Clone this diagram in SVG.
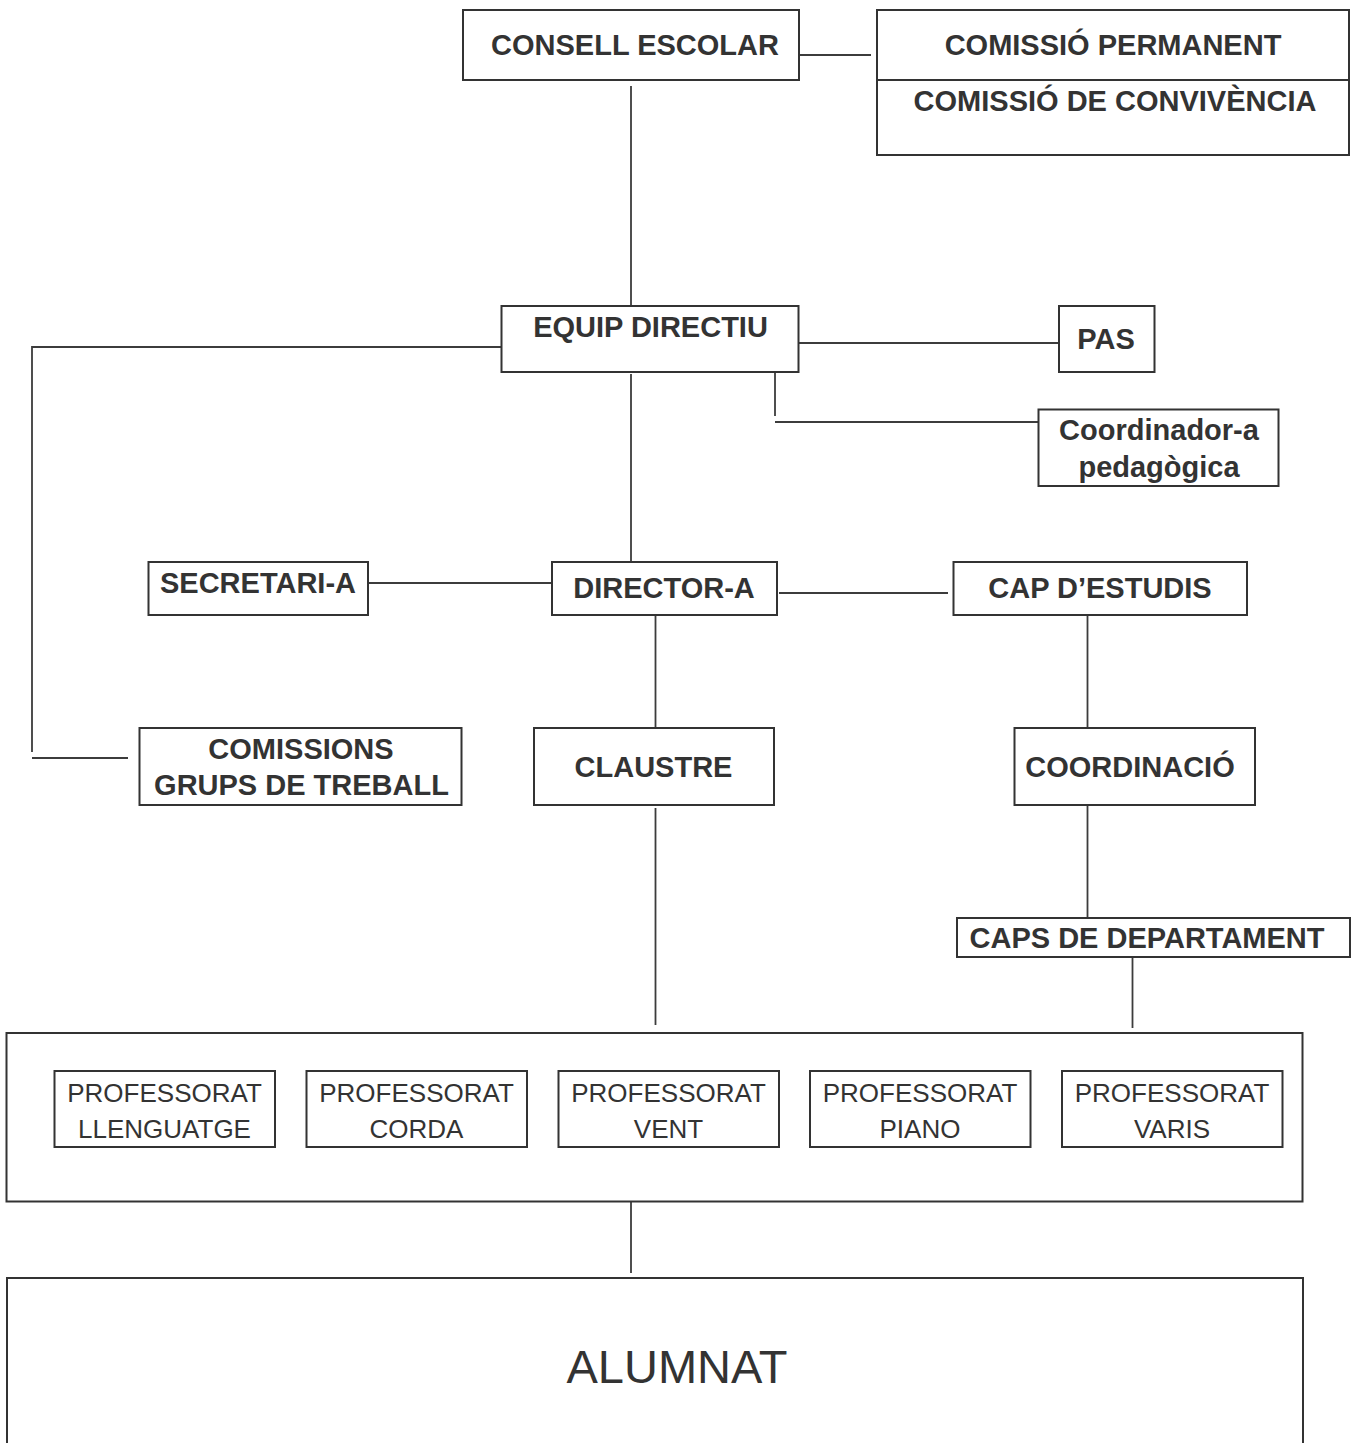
<svg xmlns="http://www.w3.org/2000/svg" width="1353" height="1443" viewBox="0 0 1353 1443">
<style>
.box{fill:#ffffff;stroke:#333333;stroke-width:2}
.ln{fill:none;stroke:#3c3c3c;stroke-width:1.8}
.b{font-family:"Liberation Sans",Arial,sans-serif;font-weight:bold;font-size:29px;fill:#333333;text-anchor:middle}
.r{font-family:"Liberation Sans",Arial,sans-serif;font-size:26px;fill:#333333;text-anchor:middle}
.big{font-family:"Liberation Sans",Arial,sans-serif;font-size:47px;fill:#333333;text-anchor:middle}
</style>
<rect x="0" y="0" width="1353" height="1443" fill="#ffffff"/>
<g id="connectors">
<line class="ln" x1="799" y1="55" x2="871" y2="55"/>
<line class="ln" x1="631" y1="86" x2="631" y2="308"/>
<polyline class="ln" points="501,347 32,347 32,752"/>
<line class="ln" x1="32" y1="758" x2="128" y2="758"/>
<line class="ln" x1="799" y1="343" x2="1064" y2="343"/>
<line class="ln" x1="775" y1="367" x2="775" y2="416"/>
<line class="ln" x1="775" y1="422" x2="1041" y2="422"/>
<line class="ln" x1="631" y1="374" x2="631" y2="563"/>
<line class="ln" x1="365" y1="583" x2="551" y2="583"/>
<line class="ln" x1="779" y1="593" x2="948" y2="593"/>
<line class="ln" x1="655.5" y1="615" x2="655.5" y2="737"/>
<line class="ln" x1="1087.5" y1="615" x2="1087.5" y2="737"/>
<line class="ln" x1="1087.5" y1="803" x2="1087.5" y2="925"/>
<line class="ln" x1="655.5" y1="808" x2="655.5" y2="1025"/>
<line class="ln" x1="1132.5" y1="955" x2="1132.5" y2="1028"/>
<line class="ln" x1="631" y1="1200" x2="631" y2="1273"/>
</g>
<g id="consell-escolar">
<rect class="box" x="463" y="10" width="336" height="70"/>
<text class="b" x="635" y="55">CONSELL ESCOLAR</text>
</g>
<g id="comissions-consell">
<rect class="box" x="877" y="10" width="472" height="145"/>
<line x1="877" y1="80" x2="1349" y2="80" stroke="#333333" stroke-width="2"/>
<text class="b" x="1113" y="55">COMISSIÓ PERMANENT</text>
<text class="b" x="1115" y="110.5">COMISSIÓ DE CONVIVÈNCIA</text>
</g>
<g id="equip-directiu">
<rect class="box" x="501.5" y="306" width="297" height="66"/>
<text class="b" x="650.5" y="337">EQUIP DIRECTIU</text>
</g>
<g id="pas">
<rect class="box" x="1059" y="306" width="95.5" height="66"/>
<text class="b" x="1106" y="349">PAS</text>
</g>
<g id="coordinador-pedagogica">
<rect class="box" x="1038.5" y="409.5" width="240" height="76.5"/>
<text class="b" x="1159" y="440">Coordinador-a</text>
<text class="b" x="1159" y="477">pedagògica</text>
</g>
<g id="secretari">
<rect class="box" x="148.5" y="562" width="219.5" height="53"/>
<text class="b" x="258" y="593">SECRETARI-A</text>
</g>
<g id="director">
<rect class="box" x="552" y="562" width="225" height="53"/>
<text class="b" x="664" y="598">DIRECTOR-A</text>
</g>
<g id="cap-estudis">
<rect class="box" x="953.5" y="562" width="293.5" height="53"/>
<text class="b" x="1100" y="598">CAP D’ESTUDIS</text>
</g>
<g id="comissions-grups">
<rect class="box" x="139.5" y="728" width="322" height="77"/>
<text class="b" x="301" y="759">COMISSIONS</text>
<text class="b" x="301.5" y="795">GRUPS DE TREBALL</text>
</g>
<g id="claustre">
<rect class="box" x="534" y="728" width="240" height="77"/>
<text class="b" x="653.5" y="777">CLAUSTRE</text>
</g>
<g id="coordinacio">
<rect class="box" x="1014.5" y="728" width="240.5" height="77"/>
<text class="b" x="1130" y="777">COORDINACIÓ</text>
</g>
<g id="caps-departament">
<rect class="box" x="957" y="918" width="393" height="39"/>
<text class="b" x="1147" y="948">CAPS DE DEPARTAMENT</text>
</g>
<g id="professorat">
<rect class="box" x="6.5" y="1033" width="1296" height="168.5"/>
<g id="prof-llenguatge">
<rect class="box" x="54.5" y="1071" width="220.5" height="76"/>
<text class="r" x="164.5" y="1101.7">PROFESSORAT</text>
<text class="r" x="164.5" y="1138.3">LLENGUATGE</text>
</g>
<g id="prof-corda">
<rect class="box" x="306.5" y="1071" width="220.5" height="76"/>
<text class="r" x="416.5" y="1101.7">PROFESSORAT</text>
<text class="r" x="416.5" y="1138.3">CORDA</text>
</g>
<g id="prof-vent">
<rect class="box" x="558.5" y="1071" width="220.5" height="76"/>
<text class="r" x="668.5" y="1101.7">PROFESSORAT</text>
<text class="r" x="668.5" y="1138.3">VENT</text>
</g>
<g id="prof-piano">
<rect class="box" x="810" y="1071" width="220.5" height="76"/>
<text class="r" x="920" y="1101.7">PROFESSORAT</text>
<text class="r" x="920" y="1138.3">PIANO</text>
</g>
<g id="prof-varis">
<rect class="box" x="1062" y="1071" width="220.5" height="76"/>
<text class="r" x="1172" y="1101.7">PROFESSORAT</text>
<text class="r" x="1172" y="1138.3">VARIS</text>
</g>
</g>
<g id="alumnat">
<rect class="box" x="7" y="1278" width="1296" height="200"/>
<text class="big" x="677" y="1383">ALUMNAT</text>
</g>
</svg>
